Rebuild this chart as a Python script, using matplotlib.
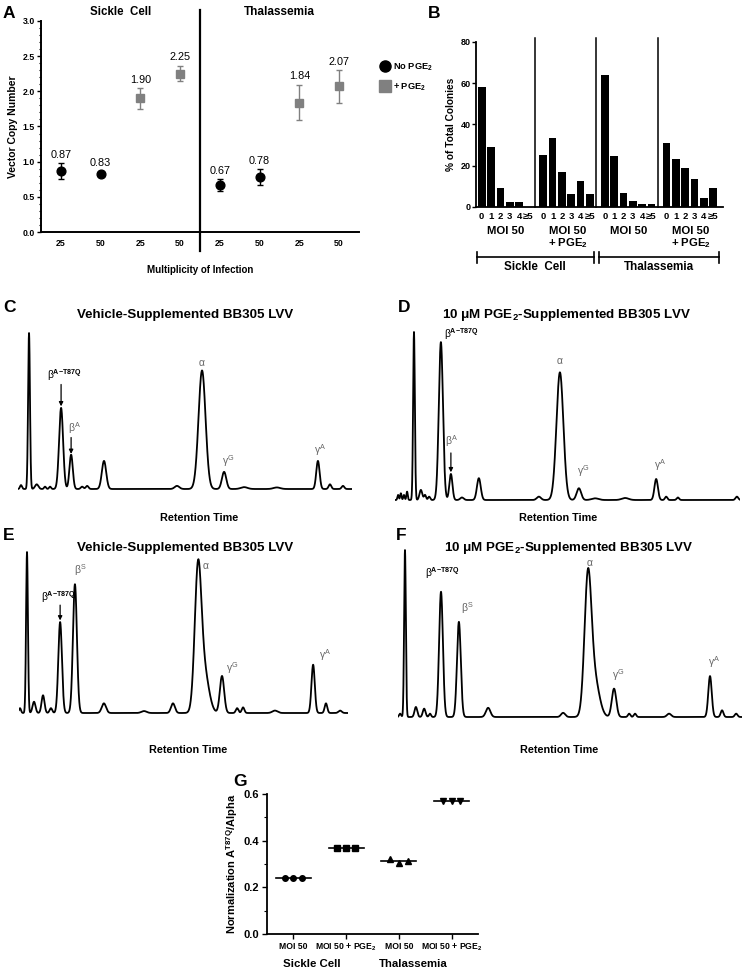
import numpy as np
import matplotlib
matplotlib.use("Agg")
import matplotlib.pyplot as plt
from matplotlib.ticker import MultipleLocator, FormatStrFormatter
from matplotlib.lines import Line2D

plt.rcParams['font.family'] = ['Liberation Sans', 'DejaVu Sans']
plt.rcParams['mathtext.fontset'] = 'custom'
plt.rcParams['mathtext.rm'] = 'Liberation Sans'
plt.rcParams['mathtext.bf'] = 'Liberation Sans:bold'
plt.rcParams['mathtext.it'] = 'Liberation Sans:italic'

W, H = 744, 971
fig = plt.figure(figsize=(W / 100, H / 100), dpi=100)


def ax_px(left, top, right, bottom):
    return fig.add_axes([left / W, 1 - bottom / H, (right - left) / W, (bottom - top) / H])


def ftext(x, y, s, **kw):
    fig.text(x / W, 1 - y / H, s, **kw)


# ---------------- data ----------------
# Panel A: vector copy number
a_ticklabels = ['25', '50', '25', '50', '25', '50', '25', '50']
a_no_pos = [1, 2, 5, 6]
a_no_vals = [0.87, 0.83, 0.67, 0.78]
a_no_err = [0.11, 0.03, 0.08, 0.11]
a_pge_pos = [3, 4, 7, 8]
a_pge_vals = [1.90, 2.25, 1.84, 2.07]
a_pge_err = [0.145, 0.11, 0.25, 0.23]
a_groups = ['Sickle  Cell', 'Thalassemia']

# Panel B: % of total colonies by VCN
b_cats = ['0', '1', '2', '3', '4', '≥5']
b_sc_moi50 = [58, 29, 9, 2.5, 2.5, 0]
b_sc_pge = [25, 33.5, 17, 6.5, 12.5, 6.5]
b_th_moi50 = [64, 24.5, 7, 3, 1.5, 1.5]
b_th_pge = [31, 23.5, 19, 13.5, 4.5, 9]
b_group_labels = ['MOI 50', 'MOI 50\n+ PGE$_\\mathbf{2}$', 'MOI 50', 'MOI 50\n+ PGE$_\\mathbf{2}$']

# Chromatogram peaks (retention time 0-100, relative height, width)
c_rt = [0.9, 3.3, 5.6, 8.1, 9.6, 12.9, 15.9, 19.2, 20.7, 25.75, 47.6, 55.1, 61.7, 67.7, 77.5, 89.8, 93.4, 97.3]
c_h = [0.025, 1.0, 0.03, 0.015, 0.015, 0.52, 0.22, 0.015, 0.02, 0.18, 0.02, 0.76, 0.11, 0.012, 0.01, 0.18, 0.03, 0.02]
c_w = [0.3, 0.28, 0.5, 0.3, 0.3, 0.6, 0.5, 0.4, 0.4, 0.65, 0.7, 1.05, 0.65, 1.0, 1.0, 0.5, 0.4, 0.4]

d_rt = [0.9, 1.7, 2.6, 3.5, 5.5, 7.5, 8.7, 9.9, 13.3, 16.2, 19.4, 24.3, 41.7, 47.8, 53.3, 58.0, 66.7, 75.7, 78.6, 82.0, 99.1]
d_h = [0.03, 0.04, 0.03, 0.05, 1.0, 0.06, 0.03, 0.02, 0.94, 0.155, 0.015, 0.13, 0.02, 0.76, 0.07, 0.01, 0.012, 0.125, 0.02, 0.015, 0.02]
d_w = [0.2, 0.2, 0.2, 0.2, 0.25, 0.4, 0.3, 0.3, 0.6, 0.45, 0.5, 0.55, 0.6, 1.0, 0.65, 1.0, 1.0, 0.5, 0.35, 0.35, 0.4]

e_rt = [0.3, 2.43, 4.56, 7.3, 9.7, 12.5, 17.0, 25.8, 38.0, 46.8, 54.4, 56.3, 61.7, 66.3, 68.1, 77.8, 89.4, 93.3, 97.6]
e_h = [0.03, 1.0, 0.07, 0.11, 0.03, 0.565, 0.80, 0.06, 0.012, 0.06, 0.85, 0.25, 0.23, 0.03, 0.035, 0.015, 0.30, 0.06, 0.015]
e_w = [0.3, 0.28, 0.45, 0.45, 0.4, 0.55, 0.6, 0.65, 0.8, 0.6, 1.0, 1.4, 0.65, 0.4, 0.4, 0.8, 0.5, 0.4, 0.5]

f_rt = [0.6, 2.03, 5.2, 7.6, 9.3, 12.5, 17.7, 26.2, 48.0, 55.2, 57.1, 62.8, 67.2, 68.9, 78.8, 90.7, 94.2, 98.3]
f_h = [0.02, 1.0, 0.06, 0.05, 0.02, 0.75, 0.57, 0.055, 0.025, 0.80, 0.22, 0.17, 0.02, 0.02, 0.02, 0.245, 0.04, 0.02]
f_w = [0.3, 0.25, 0.4, 0.4, 0.3, 0.55, 0.55, 0.65, 0.6, 1.0, 1.4, 0.65, 0.35, 0.35, 0.6, 0.5, 0.4, 0.4]

# Panel G: normalized A-T87Q / alpha
g_ticklabels = ['MOI 50', 'MOI 50 + PGE$_\\mathbf{2}$', 'MOI 50', 'MOI 50 + PGE$_\\mathbf{2}$']
g_sc_moi50 = [0.240, 0.240, 0.240]
g_sc_pge = [0.370, 0.368, 0.370]
g_th_moi50 = [0.320, 0.303, 0.315]
g_th_pge = [0.570, 0.570, 0.570]
g_groups = ['Sickle Cell', 'Thalassemia']

GRAY = '#808080'
LBLGRAY = '#666666'
BOLD = dict(fontweight='bold')

# ---------------- Panel A ----------------
axA = ax_px(41, 21, 359, 232)
axA.errorbar(a_no_pos, a_no_vals, yerr=a_no_err, fmt='o', color='black', ms=6.3,
             capsize=2.5, elinewidth=1, capthick=1, zorder=3)
axA.errorbar(a_pge_pos, a_pge_vals, yerr=a_pge_err, fmt='s', color=GRAY, ms=6.3,
             capsize=2.5, elinewidth=1, capthick=1, zorder=3)
for xs, vs, es in [(a_no_pos, a_no_vals, a_no_err), (a_pge_pos, a_pge_vals, a_pge_err)]:
    for x, v, e in zip(xs, vs, es):
        axA.text(x, v + e + 0.05, f'{v:.2f}', ha='center', va='bottom', fontsize=7.8)
axA.set_xlim(0.5, 8.5)
axA.set_ylim(0, 3.0)
axA.set_xticks(range(1, 9))
axA.set_xticklabels(a_ticklabels, fontsize=6.3, fontweight='bold')
axA.yaxis.set_major_locator(MultipleLocator(0.5))
axA.yaxis.set_minor_locator(MultipleLocator(0.1))
axA.yaxis.set_major_formatter(FormatStrFormatter('%.1f'))
for lab in axA.get_yticklabels():
    lab.set_fontsize(6.3)
    lab.set_fontweight('bold')
axA.tick_params(axis='both', direction='out', length=3, width=1, pad=1.5)
axA.tick_params(axis='y', which='minor', length=1.5, width=0.8)
axA.tick_params(axis='x', length=0, pad=5)
for s in ['top', 'right']:
    axA.spines[s].set_visible(False)
for s in ['left', 'bottom']:
    axA.spines[s].set_linewidth(1.4)
axA.axvline(4.5, ymin=-0.09, ymax=1.05, color='black', lw=1.6, clip_on=False)
axA.text(2.5, 3.04, a_groups[0], ha='center', va='bottom', fontsize=8.3, **BOLD)
axA.text(6.5, 3.04, a_groups[1], ha='center', va='bottom', fontsize=8.5, **BOLD)
axA.set_ylabel('Vector Copy Number', fontsize=7.5, fontweight='bold', labelpad=3)
axA.set_xlabel('Multiplicity of Infection', fontsize=7, fontweight='bold', labelpad=12)
handles = [Line2D([], [], marker='o', ls='none', color='black', ms=8),
           Line2D([], [], marker='s', ls='none', color=GRAY, ms=8)]
fig.legend(handles, ['No PGE$_\\mathbf{2}$', '+ PGE$_\\mathbf{2}$'], loc='upper left',
           bbox_to_anchor=(371 / W, 1 - 53 / H), frameon=False,
           handletextpad=0.25, labelspacing=0.9, handlelength=1.2,
           prop={'size': 6.7, 'weight': 'bold'})
ftext(3, 13, 'A', fontsize=12.5, va='center', ha='left', **BOLD)

# ---------------- Panel B ----------------
axB = ax_px(476, 42, 723, 207)
b_series = [b_sc_moi50, b_sc_pge, b_th_moi50, b_th_pge]
b_ticks, b_tlabels = [], []
for g, vals in enumerate(b_series):
    xs = g * 6.6 + np.arange(len(b_cats))
    axB.bar(xs, vals, width=0.82, color='black')
    b_ticks += list(xs)
    b_tlabels += b_cats
    if g > 0:
        axB.plot([g * 6.6 - 0.9] * 2, [0, 82], color='black', lw=1.1, clip_on=False)
    axB.text(g * 6.6 + 2.6, -9.0, b_group_labels[g], ha='center', va='top',
             fontsize=8.2, fontweight='bold', linespacing=1.1)
axB.set_xlim(-0.61, 25.86)
axB.set_ylim(0, 80)
axB.set_xticks(b_ticks)
axB.set_xticklabels(b_tlabels, fontsize=6.8, fontweight='bold')
axB.set_yticks([0, 20, 40, 60, 80])
for lab in axB.get_yticklabels():
    lab.set_fontsize(6.5)
    lab.set_fontweight('bold')
axB.tick_params(axis='x', length=0, pad=3.5)
axB.tick_params(axis='y', length=3, width=1, pad=1)
for s in ['top', 'right']:
    axB.spines[s].set_visible(False)
for s in ['left', 'bottom']:
    axB.spines[s].set_linewidth(1.3)
axB.set_ylabel('% of Total Colonies', fontsize=7.3, fontweight='bold', labelpad=3)
# brackets
for x0, x1, lab in [(-0.55, 12.0, 'Sickle  Cell'), (12.6, 25.4, 'Thalassemia')]:
    axB.plot([x0, x1], [-24.4, -24.4], color='black', lw=1.2, clip_on=False)
    axB.plot([x0, x0], [-21.7, -27.1], color='black', lw=1.2, clip_on=False)
    axB.plot([x1, x1], [-21.7, -27.1], color='black', lw=1.2, clip_on=False)
    axB.text((x0 + x1) / 2, -29.2, lab, ha='center', va='center', fontsize=8.4, **BOLD)
ftext(428, 13, 'B', fontsize=12.5, va='center', ha='left', **BOLD)


# ---------------- Chromatograms ----------------
def chrom(box, rts, hs, ws, title, label, label_xy, title_xy, rt_xy, labels, arrows):
    left, right, base, top = box
    span = base - top
    ax = ax_px(left, top - 0.03 * span, right, base + 0.05 * span)
    t = np.linspace(0, 100, 4000)
    y = np.zeros_like(t)
    for r, h, w in zip(rts, hs, ws):
        y += h * np.exp(-0.5 * ((t - r) / w) ** 2)
    ax.plot(t, y, color='black', lw=1.3)
    ax.set_xlim(0, 100)
    ax.set_ylim(-0.05, 1.03)
    ax.axis('off')
    for txt, x, yy, ha, col, fs in labels:
        ax.text(x, yy, txt, ha=ha, va='center', fontsize=fs, color=col, clip_on=False)
    for x, y0, y1 in arrows:
        ax.annotate('', xy=(x, y1), xytext=(x, y0),
                    arrowprops=dict(arrowstyle='-|>', color='black', lw=0.9,
                                    mutation_scale=6, shrinkA=0, shrinkB=0))
    ftext(*title_xy, title, fontsize=9.6, ha='center', va='center', **BOLD)
    ftext(*rt_xy, 'Retention Time', fontsize=7.8, ha='center', va='center', **BOLD)
    ftext(*label_xy, label, fontsize=12.5, ha='left', va='center', **BOLD)
    return ax


bT = r'$\mathregular{\beta}^{\mathbf{A\!-\!T87Q}}$'
bA = r'$\mathregular{\beta^{A}}$'
bS = r'$\mathregular{\beta^{S}}$'
al = r'$\mathregular{\alpha}$'
gG = r'$\mathregular{\gamma^{G}}$'
gA = r'$\mathregular{\gamma^{A}}$'
K = 'black'
G_ = LBLGRAY

chrom((18, 352, 489, 333), c_rt, c_h, c_w, 'Vehicle-Supplemented BB305 LVV', 'C',
      (3, 308), (185, 315), (199, 518),
      [(bT, 14.0, 0.73, 'center', K, 7.3), (bA, 17.0, 0.39, 'center', G_, 7.5),
       (al, 55.1, 0.81, 'center', G_, 7.5), (gG, 63.0, 0.18, 'center', G_, 7.5),
       (gA, 90.4, 0.25, 'center', G_, 7.5)],
      [(12.9, 0.67, 0.53), (15.9, 0.33, 0.225)])

chrom((395, 740, 500, 332), d_rt, d_h, d_w, '10 μM PGE$_\\mathbf{2}$-Supplemented BB305 LVV', 'D',
      (398, 308), (567, 315), (558, 518),
      [(bT, 14.3, 0.99, 'left', K, 7.3), (bA, 16.4, 0.35, 'center', G_, 7.5),
       (al, 47.8, 0.83, 'center', G_, 7.5), (gG, 54.6, 0.17, 'center', G_, 7.5),
       (gA, 76.8, 0.21, 'center', G_, 7.5)],
      [(16.2, 0.28, 0.165)])

chrom((19, 348, 713, 552), e_rt, e_h, e_w, 'Vehicle-Supplemented BB305 LVV', 'E',
      (3, 535), (185, 548), (188, 750),
      [(bT, 12.0, 0.72, 'center', K, 7.3), (bS, 18.5, 0.89, 'center', G_, 7.5),
       (al, 56.8, 0.91, 'center', G_, 7.5), (gG, 64.8, 0.28, 'center', G_, 7.5),
       (gA, 93.0, 0.36, 'center', G_, 7.5)],
      [(12.5, 0.67, 0.575)])

chrom((398, 742, 717, 550), f_rt, f_h, f_w, '10 μM PGE$_\\mathbf{2}$-Supplemented BB305 LVV', 'F',
      (396, 535), (569, 548), (559, 750),
      [(bT, 7.8, 0.86, 'left', K, 7.3), (bS, 20.0, 0.65, 'center', G_, 7.5),
       (al, 55.8, 0.92, 'center', G_, 7.5), (gG, 64.0, 0.25, 'center', G_, 7.5),
       (gA, 91.9, 0.33, 'center', G_, 7.5)],
      [])

# ---------------- Panel G ----------------
axG = ax_px(267, 794, 478, 934)
g_series = [g_sc_moi50, g_sc_pge, g_th_moi50, g_th_pge]
g_markers = ['o', 's', '^', 'v']
offs = np.array([-0.165, 0.0, 0.165])
for i, (vals, m) in enumerate(zip(g_series, g_markers)):
    pos = i + 1
    axG.plot(pos + offs, vals, ls='none', marker=m, color='black', ms=4)
    med = np.median(vals)
    axG.plot([pos - 0.33, pos + 0.33], [med, med], color='black', lw=1.2)
axG.set_xlim(0.5, 4.5)
axG.set_ylim(0, 0.6)
axG.set_xticks([1, 2, 3, 4])
axG.set_xticklabels(g_ticklabels, fontsize=6.2, fontweight='bold')
axG.yaxis.set_major_locator(MultipleLocator(0.2))
axG.yaxis.set_minor_locator(MultipleLocator(0.1))
axG.yaxis.set_major_formatter(FormatStrFormatter('%.1f'))
for lab in axG.get_yticklabels():
    lab.set_fontsize(8)
    lab.set_fontweight('bold')
axG.tick_params(axis='both', direction='out', length=3.5, width=1, pad=2)
axG.tick_params(axis='y', which='minor', length=2, width=0.8)
for s in ['top', 'right']:
    axG.spines[s].set_visible(False)
for s in ['left', 'bottom']:
    axG.spines[s].set_linewidth(1.3)
axG.set_ylabel(r'Normalization A$^{\mathbf{T87Q}}$/Alpha', fontsize=8.0, fontweight='bold', labelpad=3)
axG.text(1.35, -0.128, g_groups[0], ha='center', va='center', fontsize=8.2, **BOLD)
axG.text(3.27, -0.128, g_groups[1], ha='center', va='center', fontsize=8.2, **BOLD)
ftext(233, 781, 'G', fontsize=12.5, ha='left', va='center', **BOLD)

fig.savefig('out.png', dpi=100)
